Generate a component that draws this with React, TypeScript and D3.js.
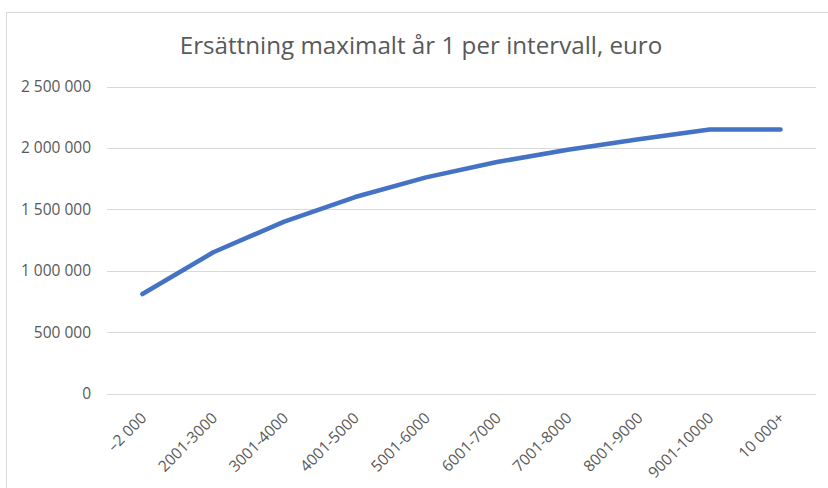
import React from "react";
import * as d3 from "d3";

const categories = ["–2 000", "2001-3000", "3001-4000", "4001-5000", "5001-6000", "6001-7000", "7001-8000", "8001-9000", "9001-10000", "10 000+"];
const values = [810000, 1150000, 1400000, 1600000, 1760000, 1885000, 1985000, 2070000, 2150000, 2150000];
const yTicks = [0, 500000, 1000000, 1500000, 2000000, 2500000];
const title = "Ersättning maximalt år 1 per intervall, euro";

const W = 828;
const H = 488;
const left = 107;
const right = 816;
const top = 86.5;
const bottom = 393.5;

export default function App() {
  const x = d3.scaleBand<string>().domain(categories).range([left, right]);
  const y = d3.scaleLinear().domain([0, 2500000]).range([bottom, top]);
  const fmt = (v: number) => d3.format(",")(v).replace(/,/g, " ");
  const line = d3
    .line<number>()
    .x((_, i) => (x(categories[i]) as number) + x.bandwidth() / 2)
    .y((d) => y(d));
  const font = "'Open Sans', sans-serif";
  return (
    <svg width={W} height={H} style={{ position: "absolute", left: 0, top: 0, background: "#fff" }} fontFamily={font}>
      <rect x={6.5} y={12.5} width={W + 10} height={H + 10} fill="#fff" stroke="#d9d9d9" />
      <text x={421} y={54} textAnchor="middle" fontSize={24.2} fill="#595959" fontWeight={400}>
        {title}
      </text>
      {yTicks.map((t) => (
        <g key={t}>
          <line x1={left} x2={right} y1={Math.round(y(t)) + 0.5} y2={Math.round(y(t)) + 0.5} stroke="#d9d9d9" strokeWidth={1} />
          <text x={91} y={y(t) + 5.5} textAnchor="end" fontSize={15.5} fill="#595959">
            {fmt(t)}
          </text>
        </g>
      ))}
      {categories.map((c) => {
        const cx = (x(c) as number) + x.bandwidth() / 2 + 5;
        const cy = 419;
        return (
          <text key={c} x={cx} y={cy} textAnchor="end" fontSize={15.5} fill="#595959" transform={`rotate(-45 ${cx} ${cy})`}>
            {c}
          </text>
        );
      })}
      <path d={line(values) || ""} fill="none" stroke="#4472C4" strokeWidth={4.5} strokeLinecap="round" strokeLinejoin="round" />
    </svg>
  );
}
